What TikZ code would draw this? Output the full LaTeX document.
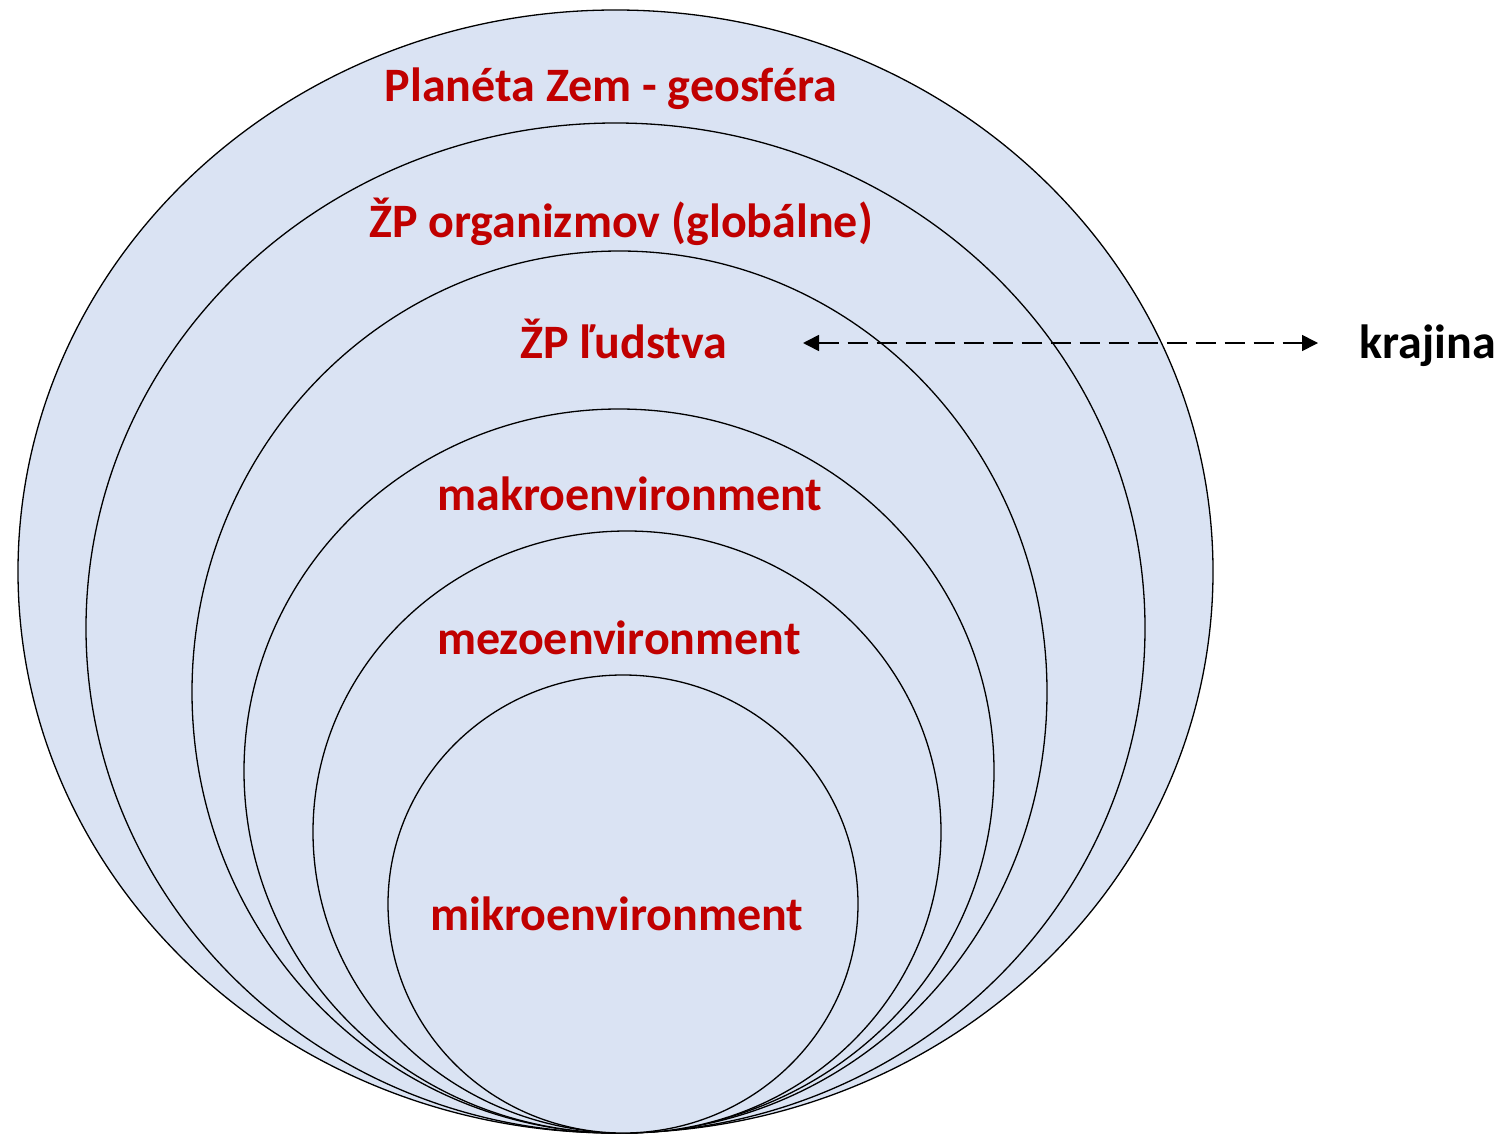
\documentclass[tikz,border=0pt]{standalone}
\usepackage{fontspec}
\setmainfont{Carlito}
\usetikzlibrary{arrows.meta}
\definecolor{fillblue}{HTML}{DAE3F3}
\definecolor{labelred}{HTML}{C00000}
\begin{document}
\begin{tikzpicture}[x=1pt,y=-1pt,
  ring/.style={draw=black,line width=1.3pt,fill=fillblue},
  lab/.style={anchor=base,text=labelred,font=\fontsize{48}{52}\selectfont\bfseries,inner sep=0pt},
  blab/.style={anchor=base,text=black,font=\fontsize{48}{52}\selectfont\bfseries,inner sep=0pt},
  link/.style={draw=black,line width=1.6pt,dash pattern=on 20pt off 9pt,{Triangle[length=16pt,width=16pt]}-{Triangle[length=16pt,width=16pt]}}]
\useasboundingbox[fill=white] (0,0) rectangle (1503,1134);
\draw[ring] (615.5,571.5) ellipse [x radius=597.5, y radius=561.5];
\draw[ring] (615.5,628) ellipse [x radius=529.5, y radius=505];
\draw[ring] (619.5,692) ellipse [x radius=427.5, y radius=441];
\draw[ring] (619,771) ellipse [x radius=375, y radius=362];
\draw[ring] (627,832) ellipse [x radius=314, y radius=301];
\draw[ring] (623,904) ellipse [x radius=235, y radius=229];
\node[lab] (planeta) at (611,102) {Planéta Zem - geosféra};
\node[lab] (organizmy) at (621,237) {ŽP organizmov (globálne)};
\node[lab] (ludstvo) at (624,358) {ŽP ľudstva};
\node[lab] (makro) at (630,510) {makroenvironment};
\node[lab] (mezo) at (619,654) {mezoenvironment};
\node[lab] (mikro) at (617,930) {mikroenvironment};
\node[blab] (krajina) at (1428,358) {krajina};
\coordinate (aL) at (803,343);
\coordinate (aR) at (1318,343);
\draw[link] (aL) -- (aR);
\end{tikzpicture}
\end{document}
